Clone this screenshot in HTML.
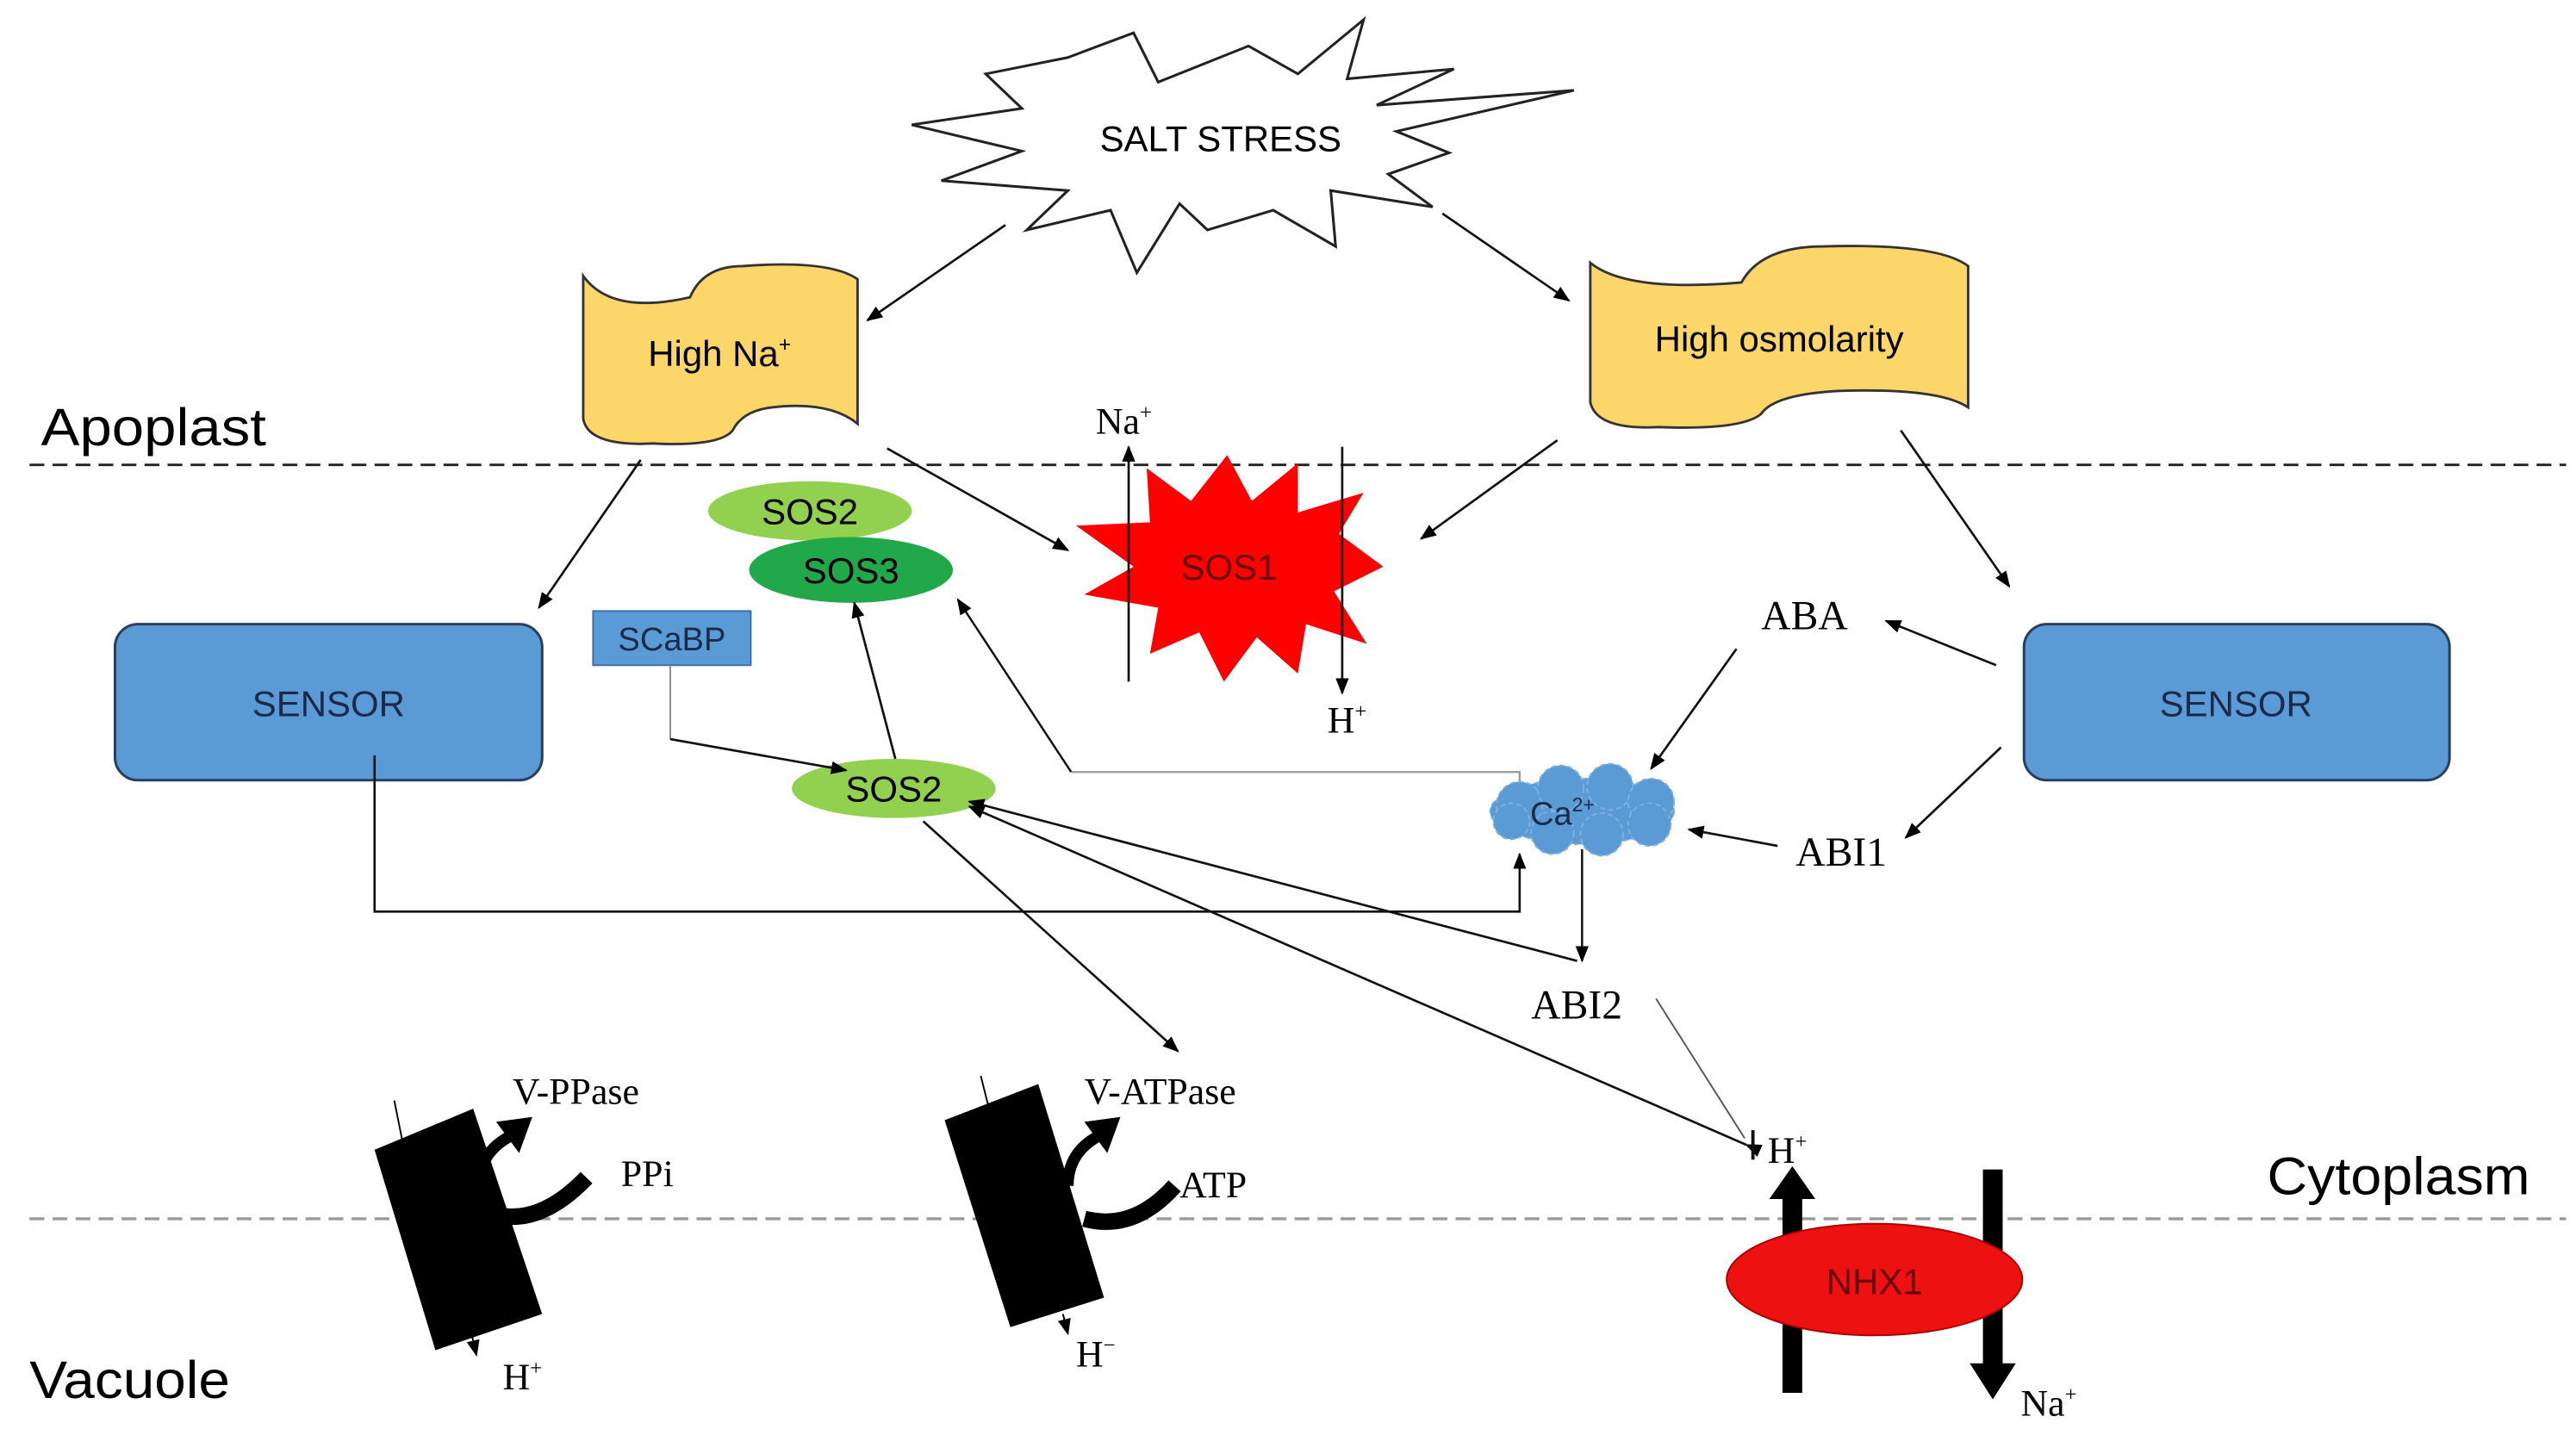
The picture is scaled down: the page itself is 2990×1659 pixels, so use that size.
<!DOCTYPE html>
<html><head><meta charset="utf-8"><style>
html,body{margin:0;padding:0;background:#fff;}
svg{display:block;}
.s{font-family:"Liberation Sans",sans-serif;}
.r{font-family:"Liberation Serif",serif;}
</style></head><body>
<svg width="2990" height="1659" viewBox="0 0 1568 870" preserveAspectRatio="none" xmlns="http://www.w3.org/2000/svg">
<defs>
<marker id="a" markerWidth="10" markerHeight="8" refX="9" refY="4" orient="auto" markerUnits="userSpaceOnUse"><path d="M0,0 L10,4 L0,8 Z" fill="#000"/></marker>
</defs>
<rect width="1568" height="870" fill="#fff"/>
<line x1="18" y1="283" x2="1562" y2="283" stroke="#222" stroke-width="1.5" stroke-dasharray="9,5"/>
<line x1="18" y1="742" x2="1562" y2="742" stroke="#999" stroke-width="1.8" stroke-dasharray="9,5"/>
<text class="s" x="25" y="271" font-size="32" textLength="137" lengthAdjust="spacingAndGlyphs">Apoplast</text>
<text class="s" x="1380" y="727" font-size="32" textLength="160" lengthAdjust="spacingAndGlyphs">Cytoplasm</text>
<text class="s" x="18" y="851" font-size="32" textLength="122" lengthAdjust="spacingAndGlyphs">Vacuole</text>
<path d="M600,45 L650,35 L690,20 L705,50 L760,28 L790,45 L830,12 L820,48 L885,42 L838,64 L958,55 L850,80 L882,93 L845,106 L872,126 L810,116 L813,150 L775,128 L735,140 L718,124 L692,166 L676,128 L625,140 L650,116 L573,110 L622,92 L555,76 L622,66 Z" fill="#fff" stroke="#222" stroke-width="1.6"/>
<text class="s" x="743" y="92" font-size="22" text-anchor="middle">SALT STRESS</text>
<path d="M355,168 Q372,192 420,181 Q428,162 452,162 Q505,158 522,170 L522,258 Q505,244 470,248 Q452,250 446,262 Q438,272 398,270 Q358,272 355,255 Z" fill="#fcd669" stroke="#333" stroke-width="1.5"/>
<text class="s" x="438" y="223" font-size="22" text-anchor="middle">High Na<tspan font-size="13" dy="-9">+</tspan></text>
<path d="M968,160 Q990,178 1060,172 Q1072,150 1110,150 Q1180,148 1198,162 L1198,248 Q1180,236 1120,238 Q1080,240 1072,252 Q1060,262 1010,260 Q972,262 968,245 Z" fill="#fcd669" stroke="#333" stroke-width="1.5"/>
<text class="s" x="1083" y="214" font-size="22" text-anchor="middle">High osmolarity</text>
<line x1="612" y1="137" x2="528" y2="195" stroke="#111" stroke-width="1.4" marker-end="url(#a)"/>
<line x1="878" y1="130" x2="955" y2="183" stroke="#111" stroke-width="1.4" marker-end="url(#a)"/>
<line x1="390" y1="280" x2="328" y2="370" stroke="#111" stroke-width="1.4" marker-end="url(#a)"/>
<line x1="540" y1="273" x2="650" y2="335" stroke="#111" stroke-width="1.4" marker-end="url(#a)"/>
<line x1="948" y1="268" x2="865" y2="328" stroke="#111" stroke-width="1.4" marker-end="url(#a)"/>
<line x1="1157" y1="262" x2="1223" y2="357" stroke="#111" stroke-width="1.4" marker-end="url(#a)"/>
<rect x="70" y="380" width="260" height="95" rx="14" fill="#5b9bd5" stroke="#2a3f5f" stroke-width="1.6"/>
<text class="s" x="200" y="436" font-size="22" text-anchor="middle" fill="#1a2a4a">SENSOR</text>
<rect x="1232" y="380" width="259" height="95" rx="14" fill="#5b9bd5" stroke="#2a3f5f" stroke-width="1.6"/>
<text class="s" x="1361" y="436" font-size="22" text-anchor="middle" fill="#1a2a4a">SENSOR</text>
<ellipse cx="493" cy="311" rx="62" ry="18" fill="#92d050"/>
<text class="s" x="493" y="319" font-size="22" text-anchor="middle">SOS2</text>
<ellipse cx="518" cy="347" rx="62" ry="20" fill="#21a84a"/>
<text class="s" x="518" y="355" font-size="22" text-anchor="middle">SOS3</text>
<rect x="361" y="372" width="96" height="33" fill="#5b9bd5" stroke="#3a6ea8" stroke-width="1"/>
<text class="s" x="409" y="396" font-size="20" text-anchor="middle" fill="#1a2a4a">SCaBP</text>
<path d="M747,277 L762,305 L790,282 L790,312 L830,300 L815,325 L842,345 L812,360 L832,392 L795,380 L790,410 L765,388 L745,415 L730,385 L700,398 L705,370 L660,362 L690,345 L655,320 L700,318 L698,285 L725,305 Z" fill="#ff0000"/>
<text class="s" x="748" y="353" font-size="22" text-anchor="middle" fill="#600">SOS1</text>
<line x1="687" y1="415" x2="687" y2="272" stroke="#111" stroke-width="1.4" marker-end="url(#a)"/>
<text class="r" x="667" y="264" font-size="23">Na<tspan font-size="13" dy="-9">+</tspan></text>
<line x1="817" y1="272" x2="817" y2="422" stroke="#111" stroke-width="1.4" marker-end="url(#a)"/>
<text class="r" x="808" y="446" font-size="23">H<tspan font-size="13" dy="-9">+</tspan></text>
<ellipse cx="544" cy="480" rx="62" ry="18" fill="#92d050"/>
<text class="s" x="544" y="488" font-size="22" text-anchor="middle">SOS2</text>
<polyline points="408,405 408,450" fill="none" stroke="#888" stroke-width="1"/>
<line x1="408" y1="450" x2="515" y2="469" stroke="#111" stroke-width="1.4" marker-end="url(#a)"/>
<line x1="545" y1="462" x2="520" y2="367" stroke="#111" stroke-width="1.4" marker-end="url(#a)"/>
<polyline points="925,485 925,470 652,470" fill="none" stroke="#999" stroke-width="1.2"/>
<line x1="652" y1="470" x2="583" y2="365" stroke="#111" stroke-width="1.3" marker-end="url(#a)"/>
<polyline points="228,460 228,555 925,555 925,520" fill="none" stroke="#111" stroke-width="1.4" marker-end="url(#a)"/>
<g fill="#5b9bd5" stroke="#7fb0e0" stroke-width="1" stroke-dasharray="3,2">
<ellipse cx="963" cy="494" rx="56" ry="20"/>
<circle cx="925" cy="490" r="14"/><circle cx="950" cy="480" r="14"/><circle cx="980" cy="479" r="14"/><circle cx="1005" cy="488" r="14"/><circle cx="1004" cy="502" r="13"/><circle cx="975" cy="508" r="13"/><circle cx="945" cy="507" r="13"/><circle cx="920" cy="500" r="11"/>
</g>
<text class="s" x="951" y="502" font-size="20" text-anchor="middle" fill="#1a2a4a">Ca<tspan font-size="12" dy="-8">2+</tspan></text>
<text class="r" x="1072" y="383" font-size="25">ABA</text>
<line x1="1215" y1="405" x2="1148" y2="378" stroke="#111" stroke-width="1.4" marker-end="url(#a)"/>
<line x1="1057" y1="395" x2="1005" y2="468" stroke="#111" stroke-width="1.4" marker-end="url(#a)"/>
<line x1="1218" y1="455" x2="1160" y2="510" stroke="#111" stroke-width="1.4" marker-end="url(#a)"/>
<text class="r" x="1093" y="527" font-size="25">ABI1</text>
<line x1="1082" y1="515" x2="1028" y2="505" stroke="#111" stroke-width="1.4" marker-end="url(#a)"/>
<line x1="963" y1="517" x2="963" y2="585" stroke="#111" stroke-width="1.3" marker-end="url(#a)"/>
<text class="r" x="932" y="620" font-size="25">ABI2</text>
<line x1="960" y1="585" x2="590" y2="488" stroke="#111" stroke-width="1.4" marker-end="url(#a)"/>
<line x1="1063" y1="697" x2="590" y2="491" stroke="#111" stroke-width="1.4" marker-start="url(#a)" marker-end="url(#a)"/>
<line x1="1008" y1="608" x2="1062" y2="693" stroke="#555" stroke-width="1"/>
<line x1="1067" y1="688" x2="1067" y2="706" stroke="#111" stroke-width="2"/>
<text class="r" x="1076" y="708" font-size="23">H<tspan font-size="13" dy="-9">+</tspan></text>
<line x1="562" y1="500" x2="717" y2="640" stroke="#111" stroke-width="1.4" marker-end="url(#a)"/>
<polygon points="228,700 288,675 330,800 265,822" fill="#000"/>
<line x1="240" y1="670" x2="245" y2="695" stroke="#000" stroke-width="1"/>
<path d="M357,717 Q330,745 304,740" fill="none" stroke="#000" stroke-width="10"/>
<path d="M292,720 Q292,702 310,692" fill="none" stroke="#000" stroke-width="7"/>
<polygon points="302,683 324,680 316,702" fill="#000"/>
<text class="r" x="312" y="672" font-size="23">V-PPase</text>
<text class="r" x="378" y="722" font-size="23">PPi</text>
<line x1="287" y1="812" x2="290" y2="825" stroke="#000" stroke-width="1" marker-end="url(#a)"/>
<text class="r" x="306" y="846" font-size="23">H<tspan font-size="13" dy="-9">+</tspan></text>
<polygon points="575,682 632,660 672,790 615,808" fill="#000"/>
<line x1="597" y1="655" x2="602" y2="675" stroke="#000" stroke-width="1"/>
<path d="M715,722 Q690,750 660,742" fill="none" stroke="#000" stroke-width="10"/>
<path d="M650,722 Q650,702 668,692" fill="none" stroke="#000" stroke-width="7"/>
<polygon points="660,683 682,680 674,702" fill="#000"/>
<text class="r" x="660" y="672" font-size="23">V-ATPase</text>
<text class="r" x="718" y="729" font-size="23">ATP</text>
<line x1="647" y1="800" x2="650" y2="812" stroke="#000" stroke-width="1" marker-end="url(#a)"/>
<text class="r" x="655" y="832" font-size="23">H<tspan font-size="13" dy="-9">−</tspan></text>
<rect x="1085" y="728" width="12" height="120" fill="#000"/>
<polygon points="1077,730 1091,710 1105,730" fill="#000"/>
<rect x="1207" y="712" width="12" height="120" fill="#000"/>
<polygon points="1199,830 1213,852 1227,830" fill="#000"/>
<ellipse cx="1141" cy="779" rx="90" ry="34" fill="#ee1111" stroke="#a00" stroke-width="1"/>
<text class="s" x="1141" y="788" font-size="22" text-anchor="middle" fill="#600">NHX1</text>
<text class="r" x="1230" y="862" font-size="23">Na<tspan font-size="13" dy="-9">+</tspan></text>
</svg>
</body></html>
